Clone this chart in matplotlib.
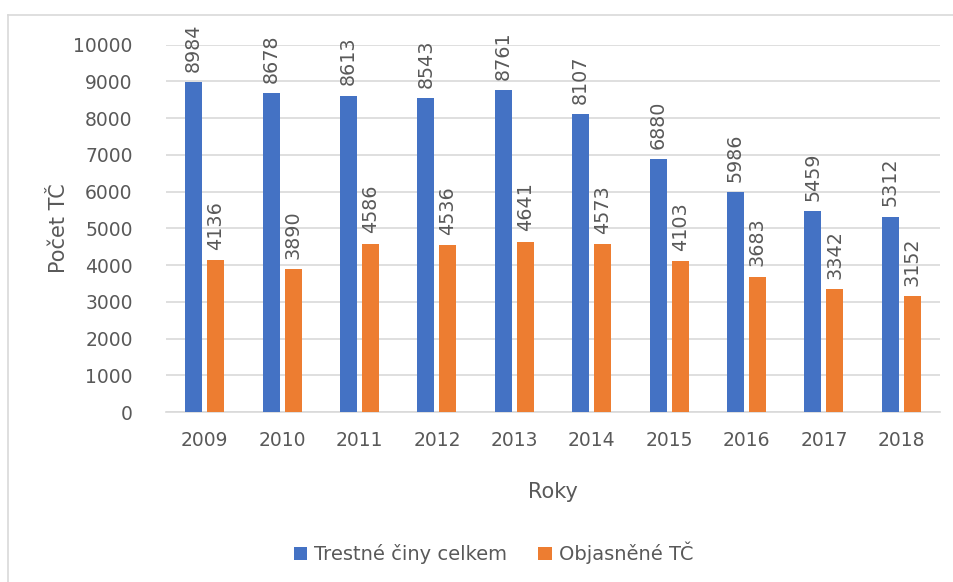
import matplotlib.pyplot as plt
from matplotlib.lines import Line2D
import numpy as np

roky = ['2009', '2010', '2011', '2012', '2013', '2014', '2015', '2016', '2017', '2018']
celkem = [8984, 8678, 8613, 8543, 8761, 8107, 6880, 5986, 5459, 5312]
objasnene = [4136, 3890, 4586, 4536, 4641, 4573, 4103, 3683, 3342, 3152]

text_color = '#595959'
plt.rcParams['font.family'] = ['DejaVu Sans']

fig = plt.figure(figsize=(9.54, 5.82), dpi=100)
ax = fig.add_axes([166 / 954, 1 - 412 / 582, 774 / 954, (412 - 44.7) / 582])

x = np.arange(len(roky))
w = 0.22
off = 0.142
b1 = ax.bar(x - off, celkem, w, color='#4472C4', label='Trestné činy celkem', zorder=3)
b2 = ax.bar(x + off, objasnene, w, color='#ED7D31', label='Objasněné TČ', zorder=3)

for bars in (b1, b2):
    for rect in bars:
        ax.annotate(str(int(rect.get_height())),
                    (rect.get_x() + rect.get_width() / 2, rect.get_height()),
                    xytext=(0, 7.5), textcoords='offset points',
                    rotation=90, ha='center', va='bottom',
                    fontsize=13.8, color=text_color, annotation_clip=False)

ax.set_xlim(-0.5, len(roky) - 0.5)
ax.set_ylim(0, 10000)
ax.set_yticks(range(0, 10001, 1000))
ax.set_xticks(x)
ax.set_xticklabels(roky)
ax.tick_params(axis='both', length=0, labelsize=13.5, colors=text_color)
ax.tick_params(axis='y', pad=24)
ax.tick_params(axis='x', pad=14)
ax.grid(axis='y', color='#D9D9D9', linewidth=1.2, zorder=0)
for s in ['top', 'right', 'left']:
    ax.spines[s].set_visible(False)
ax.spines['bottom'].set_color('#D9D9D9')
ax.spines['bottom'].set_linewidth(1.2)

ax.set_xlabel('Roky', fontsize=15, color=text_color, labelpad=23)
ax.set_ylabel('Počet TČ', fontsize=15, color=text_color, labelpad=3)

fig.legend(handles=[b1, b2], loc='center', bbox_to_anchor=(493.5 / 954, 1 - 553 / 582),
           ncol=2, frameon=False, fontsize=14, labelcolor=text_color,
           handlelength=0.7, handleheight=0.7, columnspacing=1.6, handletextpad=0.35)

fig.add_artist(Line2D([8 / 954, 1], [1 - 15 / 582, 1 - 15 / 582], color='#D9D9D9', linewidth=1.2))
fig.add_artist(Line2D([8 / 954, 8 / 954], [0, 1 - 15 / 582], color='#D9D9D9', linewidth=1.2))

fig.savefig('out.png', dpi=100)
